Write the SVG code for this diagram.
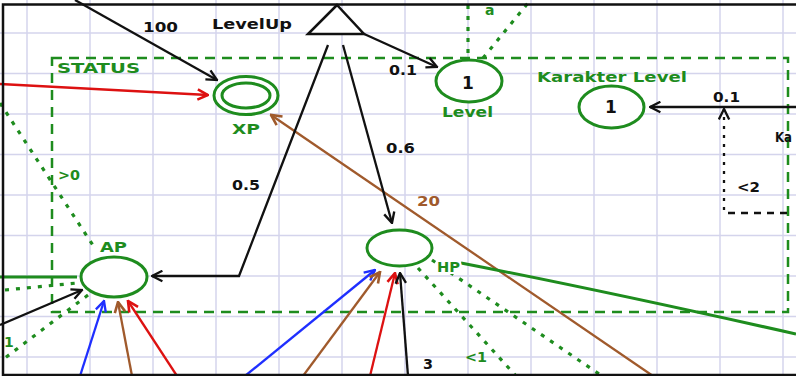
<svg xmlns="http://www.w3.org/2000/svg" width="796" height="376" viewBox="0 0 796 376">
<style>
.grid line{stroke:#d4d4ec;stroke-width:1.5}
.t{font-family:"DejaVu Sans","Liberation Sans",sans-serif;font-weight:bold;font-size:14px}
.big{font-size:17px}
.g{fill:#1e8c1e}
.k{fill:#111}
.halo{stroke:#fff;stroke-width:4;paint-order:stroke}
.node{fill:#fff;stroke:#1e8c1e;stroke-width:3}
.c{fill:none;stroke-width:2.3}
.ck{stroke:#111}
.cr{stroke:#dd1111}
.cb{stroke:#1f2fff}
.cn{stroke:#a05a2c}
.gs{fill:none;stroke:#1e8c1e;stroke-width:3}
.gd{fill:none;stroke:#1e8c1e;stroke-width:3.2;stroke-dasharray:4 7}
.box{fill:none;stroke:#1e8c1e;stroke-width:2.5;stroke-dasharray:10 7}
</style>
<defs>
<marker id="ak" viewBox="0 0 10 10" refX="9" refY="5" markerWidth="13" markerHeight="13" markerUnits="userSpaceOnUse" orient="auto"><path d="M1,1 L9,5 L1,9" fill="none" stroke="#111" stroke-width="1.8"/></marker>
<marker id="ar" viewBox="0 0 10 10" refX="9" refY="5" markerWidth="13" markerHeight="13" markerUnits="userSpaceOnUse" orient="auto"><path d="M1,1 L9,5 L1,9" fill="none" stroke="#dd1111" stroke-width="2"/></marker>
<marker id="ab" viewBox="0 0 10 10" refX="9" refY="5" markerWidth="13" markerHeight="13" markerUnits="userSpaceOnUse" orient="auto"><path d="M1,1 L9,5 L1,9" fill="none" stroke="#1f2fff" stroke-width="1.8"/></marker>
<marker id="an" viewBox="0 0 10 10" refX="9" refY="5" markerWidth="13" markerHeight="13" markerUnits="userSpaceOnUse" orient="auto"><path d="M1,1 L9,5 L1,9" fill="none" stroke="#a05a2c" stroke-width="2"/></marker>
</defs>
<rect width="796" height="376" fill="#fff"/>
<g class="grid">
<line x1="27" y1="0" x2="27" y2="376"/><line x1="90" y1="0" x2="90" y2="376"/><line x1="153" y1="0" x2="153" y2="376"/><line x1="216" y1="0" x2="216" y2="376"/><line x1="279" y1="0" x2="279" y2="376"/><line x1="342" y1="0" x2="342" y2="376"/><line x1="405" y1="0" x2="405" y2="376"/><line x1="468" y1="0" x2="468" y2="376"/><line x1="531" y1="0" x2="531" y2="376"/><line x1="594" y1="0" x2="594" y2="376"/><line x1="657" y1="0" x2="657" y2="376"/><line x1="720" y1="0" x2="720" y2="376"/><line x1="783" y1="0" x2="783" y2="376"/>
<line x1="0" y1="33" x2="796" y2="33"/><line x1="0" y1="73.5" x2="796" y2="73.5"/><line x1="0" y1="114" x2="796" y2="114"/><line x1="0" y1="154.5" x2="796" y2="154.5"/><line x1="0" y1="195" x2="796" y2="195"/><line x1="0" y1="235.5" x2="796" y2="235.5"/><line x1="0" y1="276" x2="796" y2="276"/><line x1="0" y1="316.5" x2="796" y2="316.5"/><line x1="0" y1="357" x2="796" y2="357"/>
</g>
<g id="status">
<rect class="box" x="52" y="58" width="736" height="254"/>
<text class="t g" x="57" y="73" textLength="83" lengthAdjust="spacingAndGlyphs">STATUS</text>
</g>
<g id="connectors">
<path class="c ck" d="M75,0 L217,80" marker-end="url(#ak)"/>
<path class="c cr" d="M0,84 L208,95" marker-end="url(#ar)"/>
<path class="c cn" d="M653,376 L271,115" marker-end="url(#an)"/>
<path class="c ck" d="M362,33 L437,67" marker-end="url(#ak)"/>
<path class="c ck" d="M328,45 L239,276 L152,276" marker-end="url(#ak)"/>
<path class="c ck" d="M343,45 L392,223" marker-end="url(#ak)"/>
<path class="c ck" d="M796,107 L650,107" marker-end="url(#ak)"/>
<path class="c ck" d="M787,213 L726,213" stroke-dasharray="7 6" stroke-width="2.5"/>
<path class="c ck" d="M724,210 L724,109" stroke-dasharray="3 6" stroke-width="2.5" marker-end="url(#ak)"/>
<path class="c ck" d="M0,325 L82,290" marker-end="url(#ak)"/>
<path class="c cb" d="M80,376 L104,301" marker-end="url(#ab)"/>
<path class="c cn" d="M132,376 L118,302" marker-end="url(#an)"/>
<path class="c cr" d="M177,376 L128,301" marker-end="url(#ar)"/>
<path class="c cb" d="M245,376 L375,270" marker-end="url(#ab)"/>
<path class="c cn" d="M303,376 L380,272" marker-end="url(#an)"/>
<path class="c cr" d="M370,376 L395,273" marker-end="url(#ar)"/>
<path class="c ck" d="M408,376 L400,273" marker-end="url(#ak)"/>
<path class="gs" d="M0,277 L77,277"/>
<path class="gs" d="M461,263 Q600,290 796,334"/>
<path class="gd" d="M5,290 L77,283"/>
<path class="gd" d="M88,295 L5,358"/>
<path class="gd" d="M0,103 L96,250"/>
<path class="gd" d="M468,5 L468,60"/>
<path class="gd" d="M483,58 L528,3"/>
<path class="gd" d="M418,268 L516,376"/>
<path class="gd" d="M432,260 L602,376"/>
<text class="t k" x="143" y="32" textLength="35" lengthAdjust="spacingAndGlyphs">100</text>
<text class="t k" x="389" y="75" textLength="28" lengthAdjust="spacingAndGlyphs">0.1</text>
<text class="t k" x="713" y="102" textLength="27" lengthAdjust="spacingAndGlyphs">0.1</text>
<text class="t k" x="737" y="192" textLength="23" lengthAdjust="spacingAndGlyphs">&lt;2</text>
<text class="t k" x="232" y="190" textLength="28" lengthAdjust="spacingAndGlyphs">0.5</text>
<text class="t k" x="386" y="153" textLength="29" lengthAdjust="spacingAndGlyphs">0.6</text>
<text class="t" x="417" y="206" fill="#a05a2c" textLength="23" lengthAdjust="spacingAndGlyphs">20</text>
<text class="t k" x="423" y="369" textLength="10" lengthAdjust="spacingAndGlyphs">3</text>
<text class="t g" x="58" y="180" textLength="22" lengthAdjust="spacingAndGlyphs">&gt;0</text>
<text class="t g" x="465" y="362" textLength="22" lengthAdjust="spacingAndGlyphs">&lt;1</text>
<text class="t g" x="4" y="347">1</text>
<text class="t g" x="485" y="15">a</text>
<text class="t k" x="775" y="142" textLength="17" lengthAdjust="spacingAndGlyphs">Ka</text>
</g>
<g id="levelup">
<polygon points="337,5 308,34 364,34" fill="#fff" stroke="#111" stroke-width="2.5" stroke-linejoin="miter"/>
<text class="t k" x="212" y="29" textLength="80" lengthAdjust="spacingAndGlyphs">LevelUp</text>
</g>
<g id="node-xp">
<ellipse class="node" cx="246" cy="95.5" rx="32" ry="19"/>
<ellipse class="node" cx="246" cy="95.5" rx="24" ry="12.5"/>
<text class="t g" x="232" y="134" textLength="28" lengthAdjust="spacingAndGlyphs">XP</text>
</g>
<g id="node-level">
<ellipse class="node" cx="469" cy="81" rx="33" ry="21"/>
<text class="t big k" x="468" y="88.5" text-anchor="middle">1</text>
<text class="t g" x="442" y="117" textLength="51" lengthAdjust="spacingAndGlyphs">Level</text>
</g>
<g id="node-karakter">
<ellipse class="node" cx="611.5" cy="107" rx="32.5" ry="21"/>
<text class="t big k" x="611" y="113" text-anchor="middle">1</text>
<text class="t g" x="537" y="82" textLength="150" lengthAdjust="spacingAndGlyphs">Karakter Level</text>
</g>
<g id="node-ap">
<ellipse class="node" cx="114" cy="277" rx="33" ry="20"/>
<text class="t g" x="100" y="252" textLength="27" lengthAdjust="spacingAndGlyphs">AP</text>
</g>
<g id="node-hp">
<ellipse class="node" cx="399.5" cy="248" rx="32.5" ry="18"/>
<text class="t g halo" x="437" y="272" textLength="23" lengthAdjust="spacingAndGlyphs">HP</text>
</g>
<path d="M796,4.5 H3 V375 H796" fill="none" stroke="#111" stroke-width="2.5"/>
</svg>
